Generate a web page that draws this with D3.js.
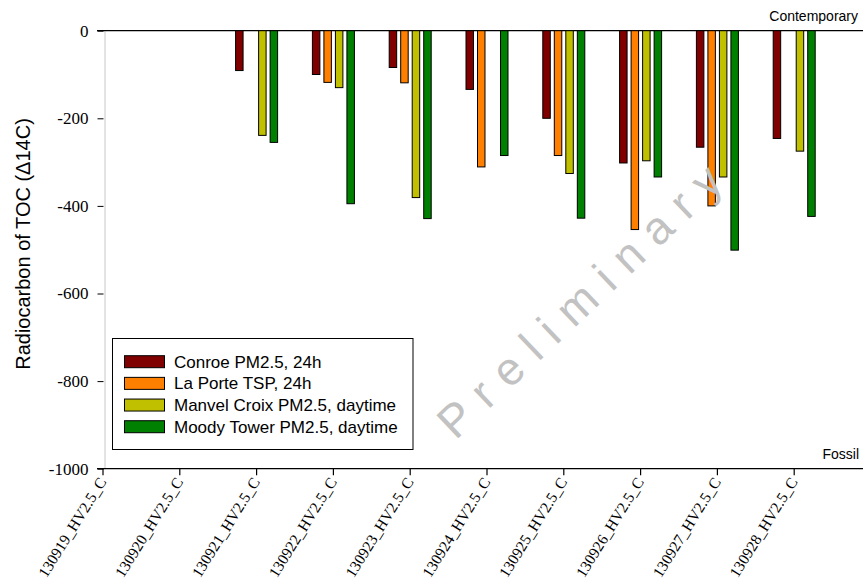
<!DOCTYPE html>
<html>
<head>
<meta charset="utf-8">
<script src="https://cdn.jsdelivr.net/npm/d3@7"></script>
<style>
  html, body { margin: 0; padding: 0; background: #fff; }
  svg { display: block; }
  .sans { font-family: "Liberation Sans", Arial, sans-serif; }
  .serif { font-family: "Liberation Serif", "Times New Roman", serif; }
</style>
</head>
<body>
<svg id="chart" width="863" height="587"></svg>
<script>
const categories = ["130919_HV2.5_C","130920_HV2.5_C","130921_HV2.5_C","130922_HV2.5_C","130923_HV2.5_C",
                    "130924_HV2.5_C","130925_HV2.5_C","130926_HV2.5_C","130927_HV2.5_C","130928_HV2.5_C"];
const seriesNames = ["Conroe PM2.5, 24h","La Porte TSP, 24h","Manvel Croix PM2.5, daytime","Moody Tower PM2.5, daytime"];
const seriesColors = ["#800000","#ff8000","#c0c000","#008000"];
const conroe  = [null, null,  -91, -100,  -84, -134, -200, -302, -266, -246];
const laporte = [null, null, null, -118, -119, -311, -285, -454, -400, null];
const manvel  = [null, null, -239, -130, -381, null, -326, -297, -334, -275];
const moody   = [null, null, -255, -395, -429, -285, -428, -334, -501, -424];
const yTicks = [0, -200, -400, -600, -800, -1000];

const seriesValues = [conroe, laporte, manvel, moody];
const svg = d3.select("#chart");
const W = 863;

const y = d3.scaleLinear().domain([-1000, 0]).range([468.7, 30.7]);
const step = 76.8;
const x = d3.scaleBand().domain(categories)
  .range([103 - step / 2, 103 - step / 2 + step * categories.length]).padding(0);
const xs = d3.scaleBand().domain(seriesNames).range([-21, 21]).paddingInner(0.35).paddingOuter(0);

// Y axis
const yAxis = d3.axisLeft(y).tickValues(yTicks).tickSize(6).tickSizeOuter(0).tickPadding(9)
  .tickFormat(d => d === 0 ? "0" : "-" + Math.abs(d));
const gy = svg.append("g").attr("transform", "translate(103.5,0)").call(yAxis)
  .attr("font-family", null).attr("font-size", null);
gy.select(".domain").attr("stroke", "#c8c8c8").attr("transform", "translate(1,0)");
gy.selectAll(".tick line").attr("stroke", "#000");
gy.selectAll(".tick text").attr("class", "serif").style("font-size", "17px").attr("fill", "#000");

// zero line and bottom axis line
svg.append("line").attr("x1", 97).attr("x2", W).attr("y1", y(0)).attr("y2", y(0))
  .attr("stroke", "#000").attr("stroke-width", 1.2);
svg.append("line").attr("x1", 97).attr("x2", W).attr("y1", y(-1000)).attr("y2", y(-1000))
  .attr("stroke", "#000").attr("stroke-width", 1.2);

// X ticks & labels
const gx = svg.append("g");
categories.forEach(c => {
  const cx = x(c) + x.bandwidth() / 2;
  gx.append("line").attr("x1", cx).attr("x2", cx).attr("y1", y(-1000)).attr("y2", y(-1000) + 6.5)
    .attr("stroke", "#000").attr("stroke-width", 1.2);
  gx.append("text").attr("transform", `translate(${cx + 4},${y(-1000) + 13}) rotate(-58)`)
    .attr("text-anchor", "end").attr("class", "serif").style("font-size", "15.5px")
    .attr("fill", "#000").text(c);
});

// Bars
seriesValues.forEach((vals, si) => {
  svg.append("g").selectAll("rect")
    .data(categories.map((c, i) => ({ c, v: vals[i] })).filter(d => d.v !== null))
    .join("rect")
    .attr("x", d => x(d.c) + x.bandwidth() / 2 + xs(seriesNames[si]))
    .attr("y", y(0))
    .attr("width", xs.bandwidth())
    .attr("height", d => y(d.v) - y(0))
    .attr("fill", seriesColors[si])
    .attr("stroke", "#000").attr("stroke-width", 1);
});

// Watermark
svg.append("text").attr("transform", "translate(582,304) rotate(-43.5)")
  .attr("text-anchor", "middle").attr("dominant-baseline", "middle")
  .attr("class", "sans").style("font-size", "46px").attr("fill", "#c2c2c2")
  .attr("textLength", 372).attr("lengthAdjust", "spacing")
  .text("Preliminary");

// Axis label
svg.append("text").attr("transform", "translate(30,244) rotate(-90)")
  .attr("text-anchor", "middle").attr("class", "sans").style("font-size", "20px")
  .attr("fill", "#000").text("Radiocarbon of TOC (\u039414C)");

// Corner labels
svg.append("text").attr("x", 858).attr("y", 21).attr("text-anchor", "end")
  .attr("class", "sans").style("font-size", "14px").attr("fill", "#000").text("Contemporary");
svg.append("text").attr("x", 859).attr("y", 459).attr("text-anchor", "end")
  .attr("class", "sans").style("font-size", "14px").attr("fill", "#000").text("Fossil");

// Legend
const lg = svg.append("g");
lg.append("rect").attr("x", 112.5).attr("y", 338.5).attr("width", 300.5).attr("height", 111)
  .attr("fill", "#fff").attr("stroke", "#000").attr("stroke-width", 1);
seriesNames.forEach((n, i) => {
  const ry = 355.7 + i * 21.67;
  lg.append("rect").attr("x", 124.5).attr("y", ry).attr("width", 40).attr("height", 12)
    .attr("fill", seriesColors[i]).attr("stroke", "#000").attr("stroke-width", 1);
  lg.append("text").attr("x", 174).attr("y", ry + 12).attr("class", "sans")
    .style("font-size", "17px").attr("fill", "#000").text(n);
});
</script>
</body>
</html>
